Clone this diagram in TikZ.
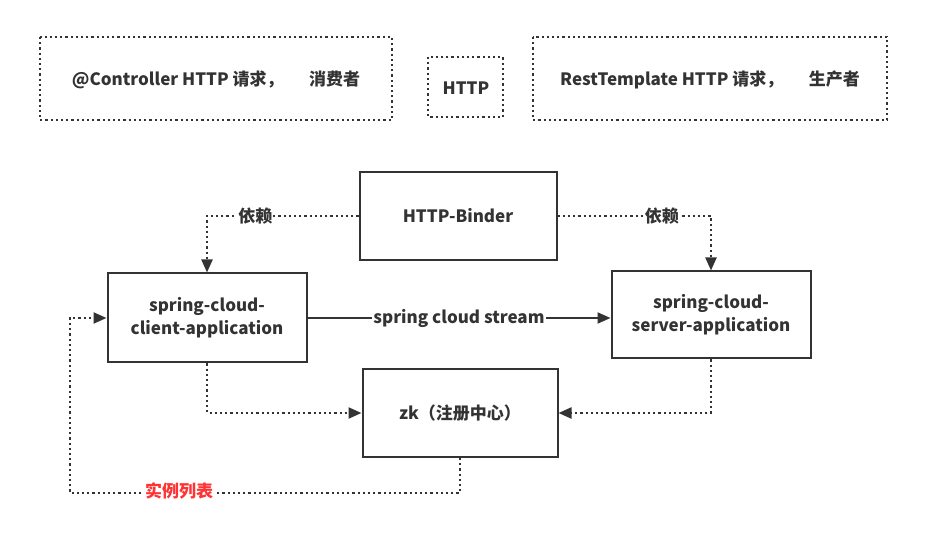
\documentclass[tikz,border=0pt]{standalone}
\usepackage{fontspec}
\setmainfont{Noto Sans CJK SC}
\usetikzlibrary{arrows.meta}
\definecolor{ink}{HTML}{333333}
\definecolor{note}{HTML}{FF3333}
\tikzset{
  box/.style={draw=ink, line width=2pt, minimum width=197pt, minimum height=88pt, align=center, text=ink},
  dotbox/.style={draw=ink, line width=2.2pt, dash pattern=on 2.2pt off 3pt, text=ink},
  dep/.style={draw=ink, line width=2.2pt, dash pattern=on 2.2pt off 3pt, -{Triangle[length=13pt,width=11pt]}},
  lbl/.style={fill=white, inner sep=1pt, text=ink}
}
\begin{document}
\begin{tikzpicture}[x=1pt, y=-1pt, font=\fontsize{17}{23}\selectfont\bfseries]
\useasboundingbox (0,0) rectangle (929,534);
% top notes
\draw[dotbox] (40,37) rectangle (392,120);
\node[text=ink] (consumer) at (216,80) {@Controller HTTP 请求，\hspace{1.5em}消费者};
\draw[dotbox] (428,57) rectangle (503,117);
\node[text=ink] (http) at (466,88) {HTTP};
\draw[dotbox] (533,37) rectangle (887,120);
\node[text=ink] (producer) at (710,80) {RestTemplate HTTP 请求，\hspace{1.5em}生产者};

% main boxes
\node[box] (binder) at (458,216) {HTTP-Binder};
\node[box, minimum width=199pt, minimum height=89pt] (client) at (207,318) {spring-cloud-\\client-application};
\node[box, minimum width=199pt, minimum height=87pt] (server) at (711,315) {spring-cloud-\\server-application};
\node[box, minimum width=195pt] (zk) at (460,413) {zk（注册中心）};

% connectors
\draw[dep] (binder.west) -| (client.north) node[lbl, pos=.34] {依赖};
\draw[dep] (binder.east) -| (server.north) node[lbl, pos=.34] {依赖};
\draw[draw=ink, line width=2pt, -{Triangle[length=13pt,width=11pt]}] (client.east) -- (client.east -| server.west)
  node[lbl, midway] {spring cloud stream};
\draw[dep] (client.south) |- (zk.west);
\draw[dep] (server.south) |- (zk.east);
\coordinate (loopa) at (460,493);
\coordinate (loopb) at (70,493);
\draw[dep] (zk.south) -- (loopa) -- node[pos=.72, fill=white, inner sep=1pt, text=note, yshift=2pt] {实例列表} (loopb) |- (client.west);
\end{tikzpicture}
\end{document}
